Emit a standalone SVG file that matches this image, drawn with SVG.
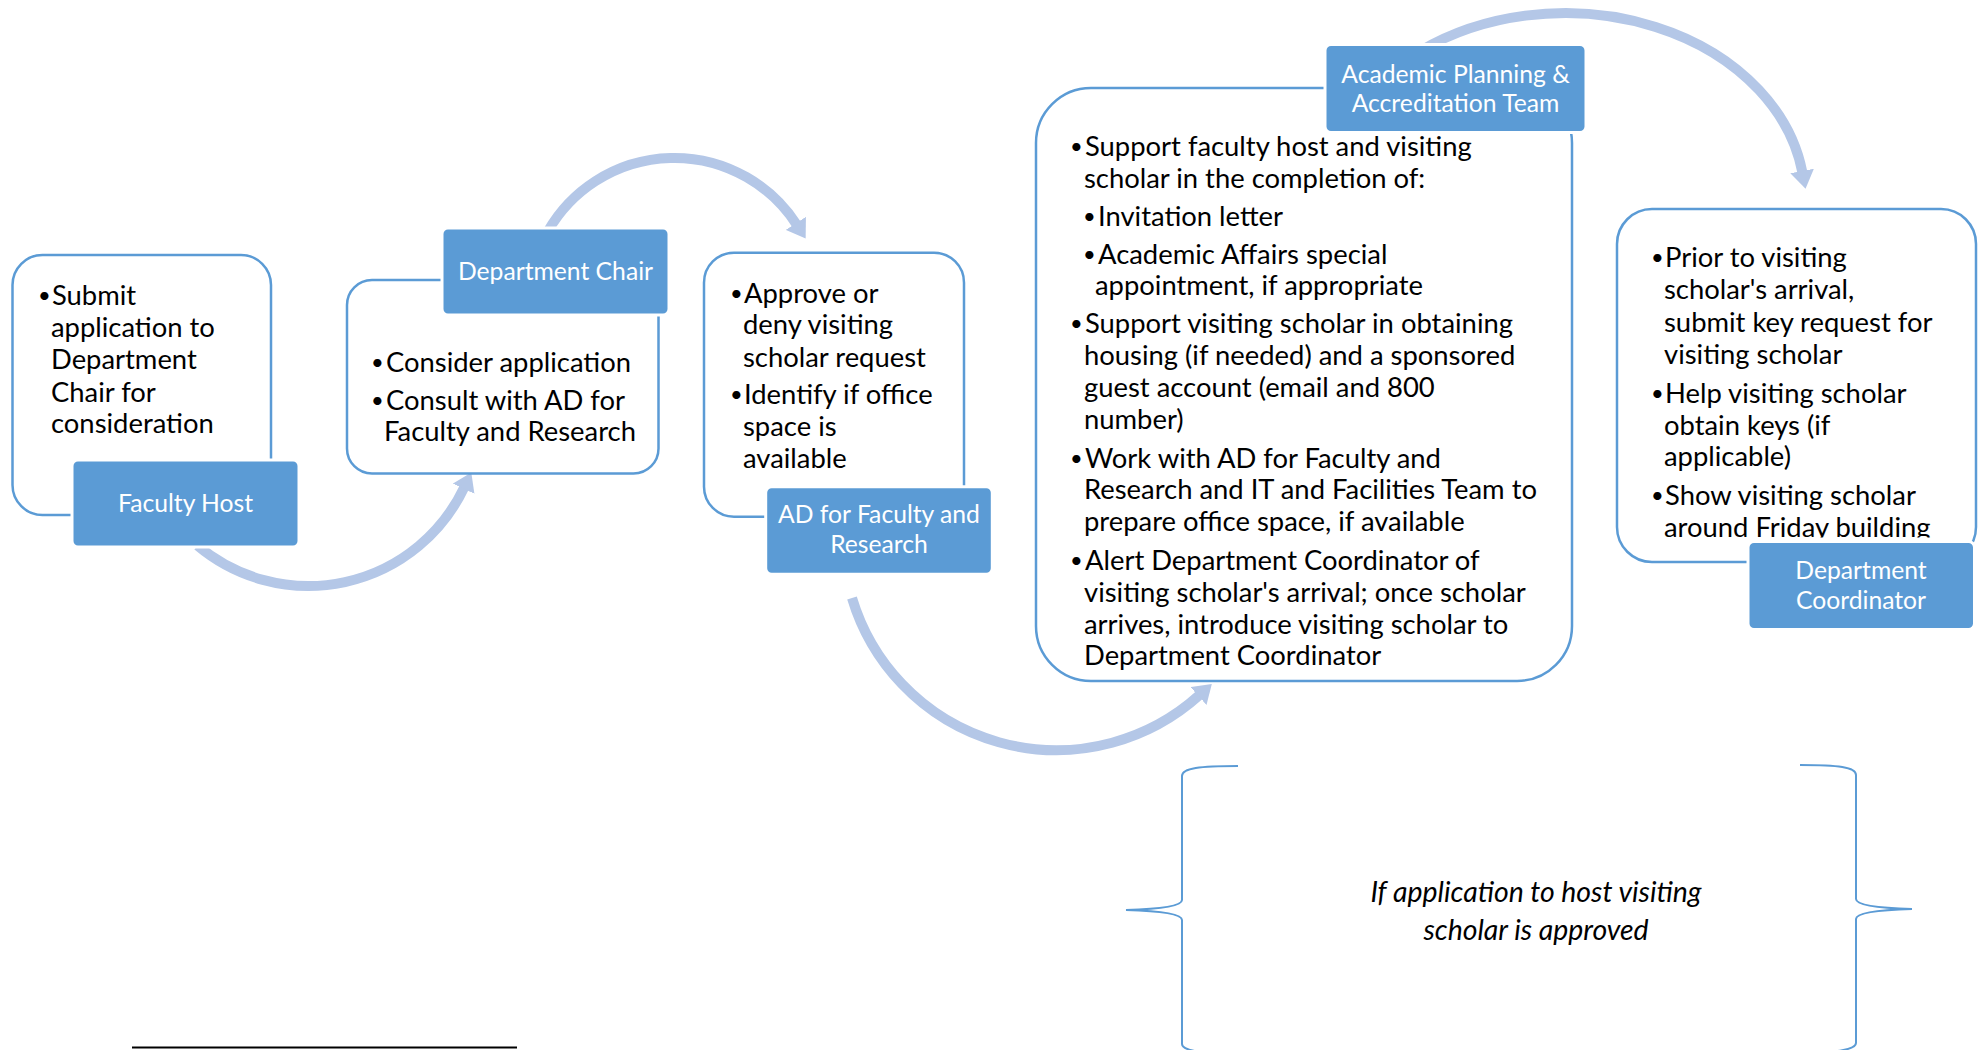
<svg xmlns="http://www.w3.org/2000/svg" width="1986" height="1050" viewBox="0 0 1986 1050">
<style>
.box{fill:#FFFFFF;stroke:#5B9BD5;stroke-width:2.5}
.lab{fill:#5B9BD5;stroke:#FFFFFF;stroke-width:3}
.body{font-family:Lato,"Liberation Sans",sans-serif;font-size:27.4px;fill:#000000}
.b{font-size:22px}
.lt{font-family:Lato,"Liberation Sans",sans-serif;font-size:24.7px;fill:#FFFFFF;text-anchor:middle}
.arc{fill:none;stroke:#B4C7E7;stroke-width:10;marker-end:url(#ah)}
.brace{fill:none;stroke:#5B9BD5;stroke-width:2}
.note{font-family:Lato,"Liberation Sans",sans-serif;font-size:28.4px;font-style:italic;fill:#000000;text-anchor:middle}
</style>
<defs>
<marker id="ah" markerUnits="userSpaceOnUse" markerWidth="18" markerHeight="24" viewBox="0 0 18 24" refX="1" refY="12" orient="auto">
<path d="M0,0 L18,12 L0,24 z" fill="#B4C7E7"/>
</marker>
<clipPath id="clipDCo"><rect x="1600" y="200" width="386" height="337.5"/></clipPath>
</defs>

<g id="connectors">
<path class="arc" d="M197.6 545.7 A172.4 172.4 0 0 0 464 487.8"/>
<path class="arc" d="M548.2 230.7 A145.6 145.6 0 0 1 796.4 224.2"/>
<path class="arc" d="M852 598 A213.4 213.4 0 0 0 1199.2 695.3"/>
<path class="arc" d="M1420.6 50.7 A240 187 0 0 1 1802.3 172"/>
</g>

<g id="node-faculty-host">
<rect class="box" x="12.5" y="255" width="258.5" height="260" rx="30"/>
<text class="body"><tspan class="b" x="38" y="303">•</tspan><tspan x="52" y="305">Submit</tspan><tspan x="51" y="337">application to</tspan><tspan x="51" y="369">Department</tspan><tspan x="51" y="401.5">Chair for</tspan><tspan x="51" y="433">consideration</tspan></text>
<rect class="lab" x="72" y="460" width="227" height="87" rx="6"/>
<text class="lt" x="185.5" y="512">Faculty Host</text>
</g>

<g id="node-department-chair">
<rect class="box" x="347" y="280" width="311.5" height="193.5" rx="25"/>
<text class="body"><tspan class="b" x="371" y="370">•</tspan><tspan x="386" y="372">Consider application</tspan><tspan class="b" x="371" y="408">•</tspan><tspan x="386" y="410">Consult with AD for</tspan><tspan x="384" y="441">Faculty and Research</tspan></text>
<rect class="lab" x="442" y="228" width="227" height="87" rx="6"/>
<text class="lt" x="555.5" y="280">Department Chair</text>
</g>

<g id="node-ad-faculty-research">
<rect class="box" x="704" y="252.7" width="260" height="264" rx="30"/>
<text class="body"><tspan class="b" x="730" y="301">•</tspan><tspan x="744" y="303">Approve or</tspan><tspan x="743" y="334">deny visiting</tspan><tspan x="743" y="366.5">scholar request</tspan><tspan class="b" x="730" y="402">•</tspan><tspan x="744" y="404">Identify if office</tspan><tspan x="743" y="436">space is</tspan><tspan x="743" y="468">available</tspan></text>
<rect class="lab" x="765.7" y="486.7" width="226.6" height="87.6" rx="6"/>
<text class="lt" x="879" y="523">AD for Faculty and</text>
<text class="lt" x="879" y="553">Research</text>
</g>

<g id="node-academic-planning">
<rect class="box" x="1036" y="88" width="536" height="593" rx="55"/>
<text class="body">
<tspan class="b" x="1070" y="154">•</tspan><tspan x="1085" y="156">Support faculty host and visiting</tspan>
<tspan x="1084" y="187.5">scholar in the completion of:</tspan>
<tspan class="b" x="1083" y="223.5">•</tspan><tspan x="1098" y="225.5">Invitation letter</tspan>
<tspan class="b" x="1083" y="261.5">•</tspan><tspan x="1098" y="263.5">Academic Affairs special</tspan>
<tspan x="1095" y="295">appointment, if appropriate</tspan>
<tspan class="b" x="1070" y="331">•</tspan><tspan x="1085" y="333">Support visiting scholar in obtaining</tspan>
<tspan x="1084" y="365">housing (if needed) and a sponsored</tspan>
<tspan x="1084" y="396.5">guest account (email and 800</tspan>
<tspan x="1084" y="428.5">number)</tspan>
<tspan class="b" x="1070" y="465.5">•</tspan><tspan x="1085" y="467.5">Work with AD for Faculty and</tspan>
<tspan x="1084" y="499">Research and IT and Facilities Team to</tspan>
<tspan x="1084" y="531">prepare office space, if available</tspan>
<tspan class="b" x="1070" y="568">•</tspan><tspan x="1085" y="570">Alert Department Coordinator of</tspan>
<tspan x="1084" y="602">visiting scholar's arrival; once scholar</tspan>
<tspan x="1084" y="633.5">arrives, introduce visiting scholar to</tspan>
<tspan x="1084" y="665">Department Coordinator</tspan>
</text>
<rect class="lab" x="1325" y="44.5" width="261" height="88" rx="6"/>
<text class="lt" x="1455.5" y="82.5">Academic Planning &amp;</text>
<text class="lt" x="1455.5" y="112">Accreditation Team</text>
</g>

<g id="node-department-coordinator">
<rect class="box" x="1617" y="209" width="359" height="353" rx="35"/>
<text class="body" clip-path="url(#clipDCo)">
<tspan class="b" x="1651" y="265">•</tspan><tspan x="1665" y="267">Prior to visiting</tspan>
<tspan x="1664" y="299">scholar's arrival,</tspan>
<tspan x="1664" y="332">submit key request for</tspan>
<tspan x="1664" y="364">visiting scholar</tspan>
<tspan class="b" x="1651" y="400.5">•</tspan><tspan x="1665" y="402.5">Help visiting scholar</tspan>
<tspan x="1664" y="434.5">obtain keys (if</tspan>
<tspan x="1664" y="466">applicable)</tspan>
<tspan class="b" x="1651" y="502.5">•</tspan><tspan x="1665" y="504.5">Show visiting scholar</tspan>
<tspan x="1664" y="537">around Friday building</tspan>
</text>
<rect class="lab" x="1748" y="541.5" width="226.5" height="88" rx="6"/>
<text class="lt" x="1861" y="579">Department</text>
<text class="lt" x="1861" y="609">Coordinator</text>
</g>

<g id="condition-bracket">
<path class="brace" d="M1238 766 C1200 766 1182 768 1182 776 L1182 900 C1182 906 1160 909 1126 910 C1160 911 1182 914 1182 920 L1182 1044 C1182 1050 1200 1054 1238 1054"/>
<path class="brace" d="M1800 765 C1838 765 1856 767 1856 775 L1856 899 C1856 905 1878 908 1912 909 C1878 910 1856 913 1856 919 L1856 1043 C1856 1049 1838 1053 1800 1053"/>
<text class="note" x="1536" y="902">If application to host visiting</text>
<text class="note" x="1536" y="940">scholar is approved</text>
</g>

<line x1="132" y1="1047.5" x2="517" y2="1047.5" stroke="#000000" stroke-width="2"/>
</svg>
